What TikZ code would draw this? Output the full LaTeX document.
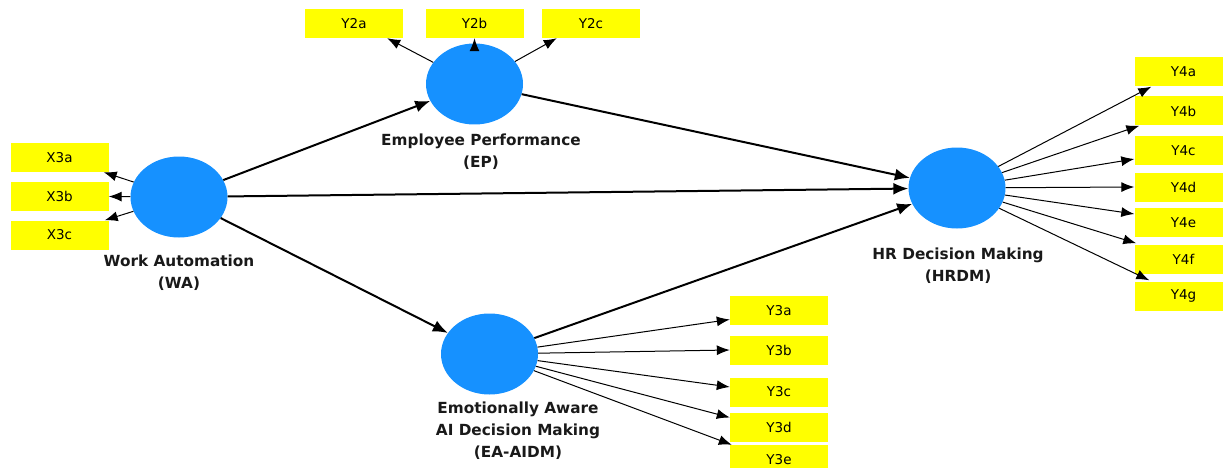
\documentclass[tikz,border=0pt]{standalone}
\usepackage{fontspec}
\setmainfont{DejaVu Sans}
\usetikzlibrary{shapes.geometric,arrows.meta}
\definecolor{lvblue}{RGB}{22,145,255}
\definecolor{indyellow}{RGB}{255,255,0}
\begin{document}
\begin{tikzpicture}[x=1pt,y=-1pt,
 lv/.style={ellipse, fill=lvblue, draw=none, minimum width=97pt, minimum height=81pt, inner sep=0pt},
 ind/.style={fill=indyellow, draw=none, minimum width=98pt, minimum height=29pt, inner sep=0pt, font=\fontsize{13.5}{15}\selectfont},
 lbl/.style={font=\fontsize{15.3}{22}\selectfont\bfseries, align=center, text=black!90},
 structarrow/.style={line width=2pt, -{Latex[length=15pt,width=12pt]}},
 loadarrow/.style={line width=1pt, -{Latex[length=13pt,width=10pt]}}]
\useasboundingbox (0,0) rectangle (1223,468);
% latent variables
\node[lv] (WA) at (179,197) {};
\node[lv] (EP) at (474.5,84) {};
\node[lv] (HR) at (957,188) {};
\node[lv] (EA) at (489.5,354) {};
% labels
\node[lbl] (WAl) at (179,273) {Work Automation\\(WA)};
\node[lbl] (EPl) at (481,152) {Employee Performance\\(EP)};
\node[lbl] (HRl) at (958,266) {HR Decision Making\\(HRDM)};
\node[lbl] (EAl) at (518,431) {Emotionally Aware\\AI Decision Making\\(EA-AIDM)};
% indicators
\node[ind] (X3a) at (59.5,157.5) {X3a};
\node[ind] (X3b) at (59.5,196.5) {X3b};
\node[ind] (X3c) at (59.5,235) {X3c};
\node[ind] (Y2a) at (354,23.5) {Y2a};
\node[ind] (Y2b) at (474.5,23.5) {Y2b};
\node[ind] (Y2c) at (591,23.5) {Y2c};
\node[ind] (Y4a) at (1183.5,72) {Y4a};
\node[ind] (Y4b) at (1183.5,111) {Y4b};
\node[ind] (Y4c) at (1183.5,150.5) {Y4c};
\node[ind] (Y4d) at (1183.5,187) {Y4d};
\node[ind] (Y4e) at (1183.5,222.5) {Y4e};
\node[ind] (Y4f) at (1183.5,259) {Y4f};
\node[ind] (Y4g) at (1183.5,296) {Y4g};
\node[ind] (Y3a) at (779,310.5) {Y3a};
\node[ind] (Y3b) at (779,350) {Y3b};
\node[ind] (Y3c) at (779,392) {Y3c};
\node[ind] (Y3d) at (779,427.5) {Y3d};
\node[ind] (Y3e) at (779,459.5) {Y3e};
% structural paths
\draw[structarrow] (WA) -- (EP);
\draw[structarrow] (WA) -- (HR);
\draw[structarrow] (WA) -- (EA);
\draw[structarrow] (EP) -- (HR);
\draw[structarrow] (EA) -- (HR);
% loadings
\draw[loadarrow] (WA) -- ([xshift=-5pt]X3a.south east);
\draw[loadarrow] (WA) -- (X3b.east);
\draw[loadarrow] (WA) -- ([xshift=-4pt]X3c.north east);
\draw[loadarrow] (EP) -- ([xshift=-16pt]Y2a.south east);
\draw[loadarrow] (EP) -- (Y2b.south);
\draw[loadarrow] (EP) -- ([xshift=15pt]Y2c.south west);
\draw[loadarrow] (HR) -- ([xshift=17pt]Y4a.south west);
\draw[loadarrow] (HR) -- ([xshift=5pt]Y4b.south west);
\draw[loadarrow] (HR) -- ([yshift=-8.5pt]Y4c.west);
\draw[loadarrow] (HR) -- (Y4d.west);
\draw[loadarrow] (HR) -- ([yshift=8.5pt]Y4e.west);
\draw[loadarrow] (HR) -- ([xshift=2pt,yshift=1pt]Y4f.north west);
\draw[loadarrow] (HR) -- ([xshift=15pt,yshift=1pt]Y4g.north west);
\draw[loadarrow] (EA) -- ([yshift=-9pt]Y3a.west);
\draw[loadarrow] (EA) -- (Y3b.west);
\draw[loadarrow] (EA) -- ([yshift=5pt]Y3c.west);
\draw[loadarrow] (EA) -- ([yshift=10pt]Y3d.west);
\draw[loadarrow] (EA) -- ([xshift=2pt]Y3e.north west);
\end{tikzpicture}
\end{document}
